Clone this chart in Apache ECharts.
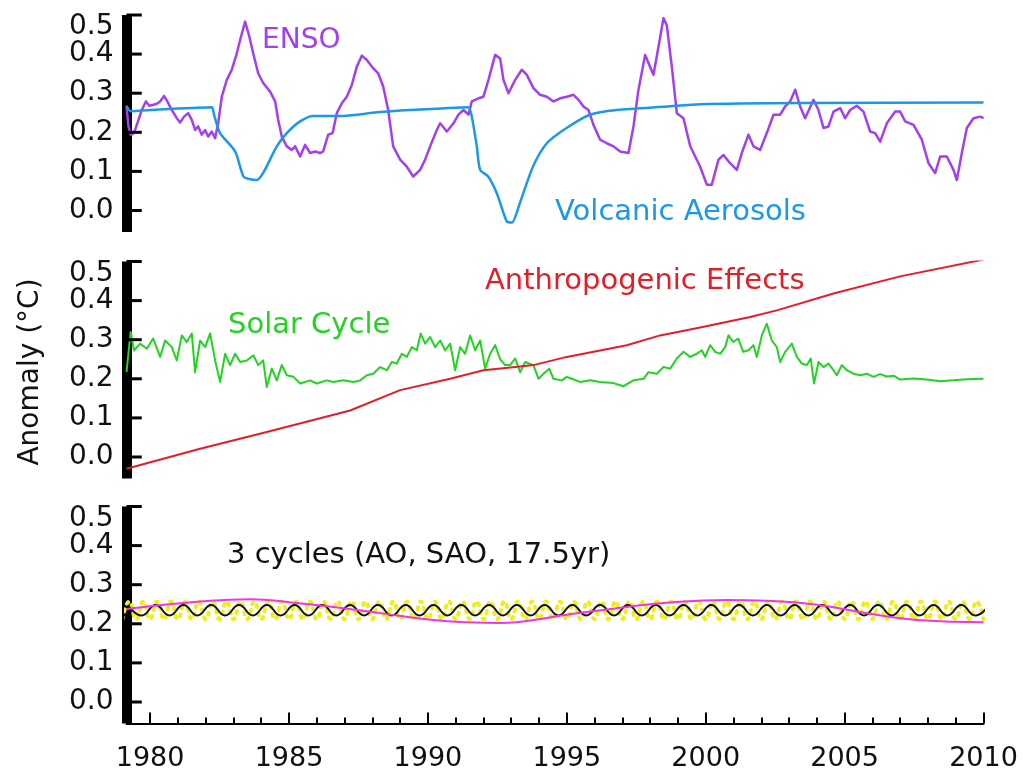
<!DOCTYPE html>
<html><head><meta charset="utf-8">
<script src="https://cdn.jsdelivr.net/npm/echarts@6/dist/echarts.min.js"></script>
<style>html,body{margin:0;padding:0;background:#fff}#c{width:1030px;height:771px}</style>
</head><body><div id="c"></div>
<script>
// ---------- tick labels ----------
const xTickLabels = [1980, 1985, 1990, 1995, 2000, 2005, 2010];
const xMinorTicks = [1980,1981,1982,1983,1984,1985,1986,1987,1988,1989,1990,1991,1992,1993,1994,1995,1996,1997,1998,1999,2000,2001,2002,2003,2004,2005,2006,2007,2008,2009,2010];
const yTickValues = [0, 0.1, 0.2, 0.3, 0.4, 0.5];

// ---------- panel 1 : ENSO and volcanic aerosols ----------
const ensoData = [
[1979.15,0.266],[1979.22,0.215],[1979.30,0.194],[1979.42,0.198],[1979.52,0.219],[1979.70,0.257],[1979.85,0.279],[1979.97,0.268],
[1980.09,0.270],[1980.24,0.273],[1980.36,0.279],[1980.50,0.293],[1980.62,0.279],[1980.78,0.257],[1980.96,0.236],[1981.08,0.225],
[1981.22,0.240],[1981.37,0.249],[1981.50,0.232],[1981.62,0.206],[1981.73,0.215],[1981.86,0.194],[1981.98,0.206],[1982.09,0.189],
[1982.22,0.202],[1982.34,0.185],[1982.45,0.223],[1982.58,0.291],[1982.76,0.334],[1982.94,0.360],[1983.09,0.394],[1983.24,0.436],
[1983.42,0.483],[1983.57,0.445],[1983.71,0.402],[1983.89,0.351],[1984.07,0.326],[1984.32,0.304],[1984.50,0.279],[1984.61,0.232],
[1984.74,0.189],[1984.92,0.164],[1985.10,0.155],[1985.22,0.164],[1985.40,0.138],[1985.58,0.168],[1985.76,0.147],[1985.94,0.151],
[1986.12,0.147],[1986.23,0.151],[1986.41,0.194],[1986.57,0.198],[1986.72,0.249],[1986.90,0.274],[1987.08,0.291],[1987.26,0.321],
[1987.44,0.368],[1987.62,0.396],[1987.80,0.385],[1988.03,0.364],[1988.21,0.351],[1988.39,0.317],[1988.57,0.257],[1988.75,0.164],
[1989.00,0.130],[1989.24,0.112],[1989.47,0.087],[1989.72,0.104],[1989.90,0.130],[1990.08,0.164],[1990.32,0.206],[1990.44,0.223],
[1990.68,0.202],[1990.92,0.223],[1991.10,0.245],[1991.28,0.257],[1991.46,0.245],[1991.58,0.279],[1991.82,0.287],[1992.00,0.291],
[1992.18,0.334],[1992.42,0.398],[1992.60,0.389],[1992.72,0.334],[1992.90,0.300],[1993.14,0.334],[1993.38,0.360],[1993.56,0.347],
[1993.80,0.313],[1994.04,0.296],[1994.28,0.291],[1994.52,0.279],[1994.76,0.287],[1995.00,0.291],[1995.24,0.296],[1995.42,0.283],
[1995.60,0.266],[1995.78,0.257],[1995.96,0.219],[1996.20,0.181],[1996.44,0.172],[1996.68,0.164],[1996.92,0.151],[1997.22,0.147],
[1997.40,0.215],[1997.58,0.309],[1997.82,0.398],[1997.94,0.377],[1998.12,0.347],[1998.30,0.419],[1998.48,0.492],[1998.60,0.474],
[1998.78,0.368],[1998.96,0.249],[1999.20,0.236],[1999.44,0.165],[1999.80,0.112],[2000.04,0.066],[2000.22,0.066],[2000.46,0.130],
[2000.64,0.142],[2000.88,0.121],[2001.12,0.104],[2001.30,0.147],[2001.54,0.194],[2001.72,0.164],[2001.96,0.155],[2002.20,0.198],
[2002.44,0.245],[2002.68,0.245],[2002.86,0.266],[2003.04,0.279],[2003.22,0.309],[2003.40,0.266],[2003.58,0.236],[2003.88,0.283],
[2004.06,0.257],[2004.24,0.211],[2004.42,0.215],[2004.60,0.253],[2004.84,0.262],[2005.02,0.236],[2005.20,0.257],[2005.44,0.268],
[2005.68,0.253],[2005.92,0.202],[2006.10,0.198],[2006.28,0.176],[2006.52,0.223],[2006.82,0.253],[2007.00,0.253],[2007.18,0.228],
[2007.48,0.219],[2007.78,0.181],[2008.02,0.121],[2008.26,0.096],[2008.44,0.138],[2008.68,0.138],[2008.92,0.104],[2009.04,0.078],
[2009.22,0.147],[2009.40,0.211],[2009.64,0.236],[2009.88,0.240],[2010.00,0.236]
];
const volcanicData = [
[1979.15,0.268],[1979.30,0.254],[1979.60,0.255],[1980.50,0.259],[1981.50,0.262],[1982.22,0.264],[1982.30,0.245],[1982.52,0.198],
[1983.06,0.151],[1983.36,0.087],[1983.60,0.080],[1983.84,0.078],[1984.07,0.096],[1984.56,0.164],[1984.92,0.198],[1985.40,0.228],
[1985.87,0.242],[1986.95,0.242],[1988.16,0.251],[1989.36,0.257],[1990.50,0.261],[1991.45,0.264],[1991.58,0.240],[1991.76,0.164],
[1991.88,0.104],[1992.17,0.087],[1992.48,0.044],[1992.84,-0.028],[1993.02,-0.031],[1993.31,0.019],[1993.78,0.112],[1994.28,0.172],
[1994.99,0.211],[1995.83,0.245],[1996.80,0.257],[1998.60,0.266],[1999.80,0.272],[2003.40,0.275],[2010.00,0.276]
];

// ---------- panel 2 : solar cycle and anthropogenic effects ----------
const solarData = [
[1979.15,0.217],[1979.30,0.320],[1979.42,0.273],[1979.64,0.290],[1979.88,0.277],[1980.11,0.303],[1980.36,0.256],[1980.54,0.298],
[1980.78,0.281],[1980.96,0.247],[1981.14,0.311],[1981.32,0.294],[1981.50,0.316],[1981.62,0.217],[1981.80,0.298],[1981.98,0.281],
[1982.16,0.316],[1982.34,0.247],[1982.52,0.192],[1982.70,0.264],[1982.88,0.235],[1983.06,0.264],[1983.24,0.243],[1983.48,0.247],
[1983.72,0.260],[1983.89,0.235],[1984.07,0.247],[1984.20,0.179],[1984.38,0.226],[1984.56,0.196],[1984.74,0.235],[1984.92,0.209],
[1985.16,0.205],[1985.40,0.188],[1985.76,0.196],[1986.00,0.188],[1986.36,0.196],[1986.60,0.192],[1986.96,0.196],[1987.32,0.192],
[1987.56,0.196],[1987.80,0.209],[1988.03,0.213],[1988.28,0.230],[1988.52,0.222],[1988.70,0.243],[1988.88,0.239],[1989.06,0.264],
[1989.24,0.256],[1989.42,0.281],[1989.60,0.273],[1989.74,0.316],[1989.90,0.290],[1990.08,0.307],[1990.26,0.281],[1990.44,0.298],
[1990.62,0.273],[1990.80,0.290],[1990.98,0.222],[1991.16,0.281],[1991.34,0.264],[1991.52,0.311],[1991.70,0.273],[1991.88,0.298],
[1992.06,0.226],[1992.24,0.264],[1992.42,0.286],[1992.60,0.250],[1992.78,0.235],[1992.96,0.235],[1993.14,0.252],[1993.32,0.217],
[1993.50,0.243],[1993.80,0.235],[1993.98,0.200],[1994.16,0.213],[1994.37,0.226],[1994.52,0.200],[1994.82,0.196],[1995.00,0.205],
[1995.18,0.200],[1995.48,0.192],[1995.84,0.196],[1996.20,0.192],[1996.68,0.189],[1997.04,0.181],[1997.40,0.196],[1997.76,0.200],
[1997.94,0.217],[1998.24,0.213],[1998.48,0.230],[1998.72,0.226],[1998.96,0.252],[1999.20,0.269],[1999.44,0.256],[1999.68,0.264],
[1999.86,0.273],[1999.98,0.256],[2000.16,0.286],[2000.34,0.269],[2000.52,0.264],[2000.70,0.281],[2000.82,0.311],[2000.99,0.294],
[2001.17,0.303],[2001.35,0.269],[2001.54,0.273],[2001.72,0.286],[2001.84,0.256],[2002.02,0.311],[2002.20,0.341],[2002.38,0.298],
[2002.56,0.281],[2002.68,0.243],[2002.86,0.269],[2003.10,0.290],[2003.28,0.256],[2003.46,0.239],[2003.64,0.235],[2003.78,0.252],
[2003.90,0.188],[2004.06,0.243],[2004.24,0.230],[2004.42,0.239],[2004.60,0.222],[2004.72,0.209],[2004.90,0.235],[2005.08,0.222],
[2005.32,0.213],[2005.56,0.209],[2005.80,0.213],[2006.04,0.205],[2006.28,0.212],[2006.52,0.206],[2006.76,0.208],[2007.00,0.198],
[2007.48,0.201],[2007.96,0.198],[2008.44,0.194],[2008.92,0.196],[2009.40,0.199],[2010.00,0.200]
];
const anthroData = [
[1979.15,-0.030],[1981.80,0.021],[1984.20,0.064],[1987.20,0.119],[1989.00,0.171],[1990.80,0.200],[1992.00,0.222],[1993.14,0.230],
[1993.80,0.235],[1995.00,0.256],[1997.16,0.286],[1998.36,0.311],[1999.80,0.331],[2001.60,0.358],[2002.56,0.375],[2004.60,0.418],
[2007.00,0.462],[2010.00,0.505]
];

// ---------- panel 3 : three cycles ----------
// annual oscillation: half-year spaced extremes starting 1979.2
const aoStart = 1979.2, aoStep = 0.5;
const aoValues = [
0.248,0.221,0.248,0.221,0.248,0.221,0.248,0.221,0.248,0.221,
0.248,0.221,0.248,0.221,0.248,0.221,0.248,0.221,0.248,0.221,
0.248,0.221,0.248,0.221,0.248,0.221,0.248,0.221,0.248,0.221,
0.248,0.221,0.248,0.221,0.248,0.221,0.248,0.221,0.248,0.221,
0.248,0.221,0.248,0.221,0.248,0.221,0.248,0.221,0.248,0.221,
0.248,0.221,0.248,0.221,0.248,0.221,0.248,0.221,0.248,0.221,
0.248,0.221,0.248
];
// semi-annual oscillation: quarter-year spaced extremes starting 1979.0
const saoStart = 1979.0, saoStep = 0.25;
const saoValues = [
0.212,0.257,0.212,0.257,0.212,0.257,0.212,0.257,0.212,0.257,
0.212,0.257,0.212,0.257,0.212,0.257,0.212,0.257,0.212,0.257,
0.212,0.257,0.212,0.257,0.212,0.257,0.212,0.257,0.212,0.257,
0.212,0.257,0.212,0.257,0.212,0.257,0.212,0.257,0.212,0.257,
0.212,0.257,0.212,0.257,0.212,0.257,0.212,0.257,0.212,0.257,
0.212,0.257,0.212,0.257,0.212,0.257,0.212,0.257,0.212,0.257,
0.212,0.257,0.212,0.257,0.212,0.257,0.212,0.257,0.212,0.257,
0.212,0.257,0.212,0.257,0.212,0.257,0.212,0.257,0.212,0.257,
0.212,0.257,0.212,0.257,0.212,0.257,0.212,0.257,0.212,0.257,
0.212,0.257,0.212,0.257,0.212,0.257,0.212,0.257,0.212,0.257,
0.212,0.257,0.212,0.257,0.212,0.257,0.212,0.257,0.212,0.257,
0.212,0.257,0.212,0.257,0.212,0.257,0.212,0.257,0.212,0.257,
0.212,0.257,0.212,0.257,0.212
];
const cycle17Data = [
[1979.15,0.238],[1981.80,0.257],[1983.60,0.263],[1985.16,0.254],[1986.60,0.243],[1988.40,0.226],[1990.20,0.210],[1991.40,0.204],
[1992.60,0.202],[1993.20,0.204],[1995.00,0.223],[1996.80,0.240],[1998.60,0.254],[2000.76,0.261],[2002.20,0.259],[2004.00,0.249],
[2005.80,0.227],[2007.60,0.210],[2010.00,0.204]
];

// ---------- chart ----------
const FONT = '"DejaVu Sans", Verdana, sans-serif';
const TXT = '#111111';
const XMIN = 1979.15, XMAX = 2010, YMIN = -0.055, YMAX = 0.5;
const LEFT = 126.5, WIDTH = 857, HEIGHT = 217;
const Y_TICK_SPAN = 0.55; // tick length along x, in years

const aoData = aoValues.map((v, i) => [aoStart + i * aoStep, v]);
const saoData = saoValues.map((v, i) => [saoStart + i * saoStep, v]);

function yAxis(gi) {
  return {
    type: 'value', gridIndex: gi, min: YMIN, max: YMAX,
    axisLine: { show: true, onZero: false, lineStyle: { color: '#000', width: 10, cap: 'butt' } },
    axisTick: { show: false },
    axisLabel: { show: false },
    splitLine: { show: false }
  };
}
function hiddenX(gi) {
  return { type: 'value', gridIndex: gi, min: XMIN, max: XMAX, show: false, splitLine: { show: false } };
}
function line(name, data, xi, color, width, extra) {
  return Object.assign({
    name, type: 'line', data, xAxisIndex: xi, yAxisIndex: Math.min(xi, 2),
    symbol: 'none', showSymbol: false, clip: true, animation: false,
    lineStyle: { color, width, join: 'round' }
  }, extra || {});
}

const textGraphics = [
  { id: 'tEnso', type: 'text', x: 262, y: 41, z: 10, style: { text: 'ENSO', fill: '#a23ff0', font: '28px ' + FONT, align: 'left', verticalAlign: 'middle' } },
  { id: 'tVolc', type: 'text', x: 555, y: 212, z: 10, style: { text: 'Volcanic Aerosols', fill: '#1c98e8', font: '29px ' + FONT, align: 'left', verticalAlign: 'middle' } },
  { id: 'tSolar', type: 'text', x: 228, y: 325, z: 10, style: { text: 'Solar Cycle', fill: '#22d322', font: '29px ' + FONT, align: 'left', verticalAlign: 'middle' } },
  { id: 'tAnthro', type: 'text', x: 485, y: 281, z: 10, style: { text: 'Anthropogenic Effects', fill: '#e41e26', font: '29px ' + FONT, align: 'left', verticalAlign: 'middle' } },
  { id: 'tCycles', type: 'text', x: 227, y: 555, z: 10, style: { text: '3 cycles (AO, SAO, 17.5yr)', fill: TXT, font: '29px ' + FONT, align: 'left', verticalAlign: 'middle' } },
  { id: 'tYName', type: 'text', x: 31, y: 372, rotation: Math.PI / 2, z: 10, style: { text: 'Anomaly (°C)', fill: TXT, font: '28px ' + FONT, align: 'center', verticalAlign: 'middle' } }
];

const gridBase = { left: LEFT, width: WIDTH, height: HEIGHT, outerBoundsMode: 'none', containLabel: false };
const chart = echarts.init(document.getElementById('c'), null, { renderer: 'canvas' });
chart.setOption({
  animation: false,
  backgroundColor: '#ffffff',
  grid: [
    Object.assign({ top: 15 }, gridBase),
    Object.assign({ top: 261.5 }, gridBase),
    Object.assign({ top: 506.5 }, gridBase)
  ],
  xAxis: [
    hiddenX(0),
    hiddenX(1),
    {
      type: 'value', gridIndex: 2, min: XMIN, max: XMAX, position: 'bottom',
      axisLine: { show: true, onZero: false, lineStyle: { color: '#000', width: 2 } },
      axisTick: { show: true, inside: true, length: 11, customValues: xTickLabels, lineStyle: { color: '#000', width: 2 } },
      axisLabel: { show: true, customValues: xTickLabels, margin: 22, showMinLabel: true, showMaxLabel: true, fontFamily: FONT, fontSize: 27, color: TXT, formatter: v => String(v) },
      splitLine: { show: false }
    },
    {
      type: 'value', gridIndex: 2, min: XMIN, max: XMAX, position: 'bottom',
      axisLine: { show: false, onZero: false },
      axisTick: { show: true, inside: true, length: 6, customValues: xMinorTicks, lineStyle: { color: '#000', width: 2 } },
      axisLabel: { show: false },
      splitLine: { show: false }
    }
  ],
  yAxis: [yAxis(0), yAxis(1), yAxis(2)],
  series: [
    line('ENSO', ensoData, 0, '#a23ff0', 2.5),
    line('Volcanic Aerosols', volcanicData, 0, '#1c98e8', 2.5, { smooth: 0.25 }),
    line('Solar Cycle', solarData, 1, '#22d322', 2),
    line('Anthropogenic Effects', anthroData, 1, '#e41e26', 2),
    Object.assign(line('SAO', saoData, 2, '#f2f01e', 4, { smooth: true }), { lineStyle: { color: '#f0ee1a', width: 4, type: [2, 6], cap: 'round' } }),
    line('AO', aoData, 2, '#111111', 2, { smooth: true }),
    line('17.5yr', cycle17Data, 2, '#f233e6', 2, { smooth: true })
  ],
  graphic: textGraphics
});

// y-axis tick labels first, then tick marks on top; both positioned through the library's scales
const labelGraphics = [];
const tickGraphics = [];
[0, 1, 2].forEach(gi => {
  yTickValues.forEach((v, k) => {
    const p0 = chart.convertToPixel({ xAxisIndex: gi, yAxisIndex: gi }, [XMIN, v]);
    const p1 = chart.convertToPixel({ xAxisIndex: gi, yAxisIndex: gi }, [XMIN + Y_TICK_SPAN, v]);
    labelGraphics.push({
      id: 'yl' + gi + '_' + k, type: 'text', z: 50, silent: true,
      x: p0[0] - 13, y: p0[1] + (k === yTickValues.length - 1 ? 12 : 0),
      style: { text: v.toFixed(1), fill: TXT, font: '28px ' + FONT, align: 'right', verticalAlign: 'middle' }
    });
    tickGraphics.push({
      id: 'yt' + gi + '_' + k, type: 'rect', z: 200, silent: true,
      shape: { x: p0[0], y: p0[1] - 1.5, width: p1[0] - p0[0], height: 3 },
      style: { fill: '#000', stroke: null }
    });
  });
});
chart.setOption({ graphic: textGraphics.concat(labelGraphics, tickGraphics) });
</script>
</body></html>
